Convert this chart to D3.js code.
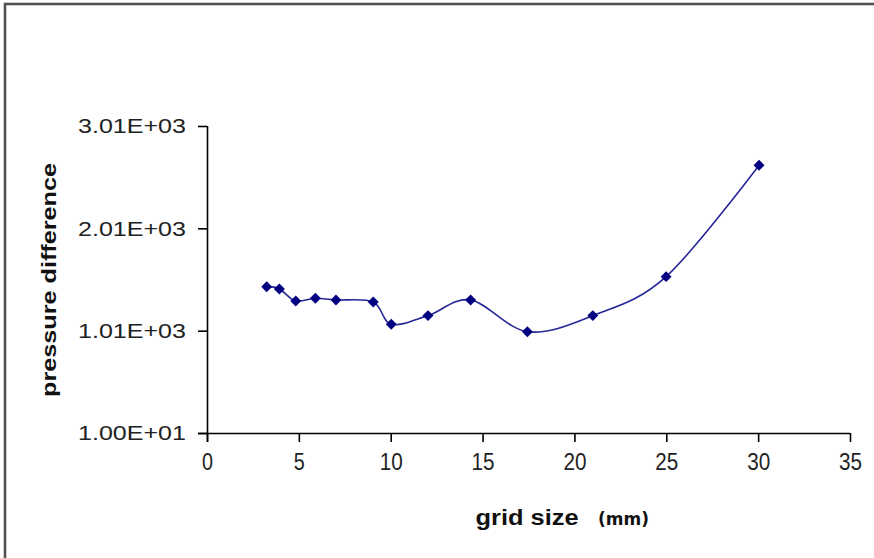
<!DOCTYPE html>
<html>
<head>
<meta charset="utf-8">
<script src="https://cdn.jsdelivr.net/npm/d3@7"></script>
<style>
  html, body { margin: 0; padding: 0; background: #fff; }
  svg { display: block; }
</style>
</head>
<body>
<svg id="chart" width="874" height="558"></svg>
<script>
// ---- data ----
const gridSize = [3.25, 3.94, 4.83, 5.9, 7.02, 9.05, 10.03, 12.03, 14.35, 17.44, 21.0, 24.99, 30.05];
const pressureDiff = [1440, 1418, 1300, 1327, 1310, 1290, 1072, 1157, 1310, 1000, 1157, 1538, 2627];
const xTicks = [0, 5, 10, 15, 20, 25, 30, 35];
const yTicks = [10, 1010, 2010, 3010];
const yTickLabels = ["1.00E+01", "1.01E+03", "2.01E+03", "3.01E+03"];
const xTitle = "grid size";
const xUnit = "(mm)";
const yTitle = "pressure difference";

// ---- layout ----
const svg = d3.select("#chart");
const W = 874, H = 558;
const mLeft = 207, mRight = 850, mTop = 126, mBottom = 433;

// background + frame
svg.append("rect").attr("x", 0).attr("y", 0).attr("width", W).attr("height", H).attr("fill", "#fff");
svg.append("rect").attr("x", 5).attr("y", 4).attr("width", W + 10).attr("height", H + 10)
  .attr("fill", "none").attr("stroke", "#9a9a9a").attr("stroke-width", 3);
svg.append("rect").attr("x", 5).attr("y", 4).attr("width", W + 10).attr("height", H + 10)
  .attr("fill", "none").attr("stroke", "#3a3a3a").attr("stroke-width", 1.5);

const x = d3.scaleLinear().domain([0, 35]).range([mLeft, mRight]);
const y = d3.scaleLinear().domain([10, 3010]).range([mBottom, mTop]);

const tickFont = "'Liberation Sans', Arial, sans-serif";

// x axis
const xAxis = svg.append("g").attr("transform", `translate(0,${mBottom})`)
  .call(d3.axisBottom(x).tickValues(xTicks).tickSize(9).tickSizeOuter(0).tickPadding(12).tickFormat(d3.format("d")));
xAxis.select(".domain").attr("stroke", "#000").attr("stroke-width", 1.6).attr("d", `M${mLeft - 9},0.5H${mRight}`);
xAxis.selectAll(".tick line").attr("stroke", "#000").attr("stroke-width", 1.6);
xAxis.selectAll(".tick text").attr("fill", "#222").attr("font-family", tickFont).attr("font-size", 23)
  .attr("textLength", d => d >= 10 ? 23 : 11).attr("lengthAdjust", "spacingAndGlyphs");

// y axis
const yAxis = svg.append("g").attr("transform", `translate(${mLeft},0)`)
  .call(d3.axisLeft(y).tickValues(yTicks).tickSize(9).tickSizeOuter(0).tickPadding(12)
    .tickFormat((d, i) => yTickLabels[i]));
yAxis.select(".domain").attr("stroke", "#000").attr("stroke-width", 1.6).attr("d", `M0.5,${mTop}V${mBottom + 9}`);
yAxis.selectAll(".tick line").attr("stroke", "#000").attr("stroke-width", 1.6);
yAxis.selectAll(".tick text").attr("fill", "#222").attr("font-family", tickFont).attr("font-size", 21)
  .attr("textLength", 108).attr("lengthAdjust", "spacingAndGlyphs");

// axis titles
svg.append("text").attr("x", 527).attr("y", 525).attr("text-anchor", "middle")
  .attr("font-family", tickFont).attr("font-weight", "bold").attr("font-size", 22).attr("fill", "#111")
  .attr("textLength", 103).attr("lengthAdjust", "spacingAndGlyphs").text(xTitle);
svg.append("text").attr("x", 598).attr("y", 525)
  .attr("font-family", "'DejaVu Sans', Verdana, sans-serif").attr("font-weight", "bold").attr("font-size", 17).attr("fill", "#111")
  .text(xUnit);
svg.append("text").attr("transform", "translate(56,280) rotate(-90)").attr("text-anchor", "middle")
  .attr("font-family", tickFont).attr("font-weight", "bold").attr("font-size", 20).attr("fill", "#111")
  .attr("textLength", 234).attr("lengthAdjust", "spacingAndGlyphs").text(yTitle);

// series
const pts = gridSize.map((g, i) => [g, pressureDiff[i]]);
const line = d3.line().x(d => x(d[0])).y(d => y(d[1])).curve(d3.curveCardinal.tension(0));
svg.append("path").datum(pts).attr("d", line).attr("fill", "none")
  .attr("stroke", "#262698").attr("stroke-width", 1.6);

const sym = d3.symbol().type(d3.symbolSquare).size(60);
svg.append("g").selectAll("path").data(pts).join("path")
  .attr("d", sym)
  .attr("transform", d => `translate(${x(d[0])},${y(d[1])}) rotate(45)`)
  .attr("fill", "#000080");
</script>
</body>
</html>
